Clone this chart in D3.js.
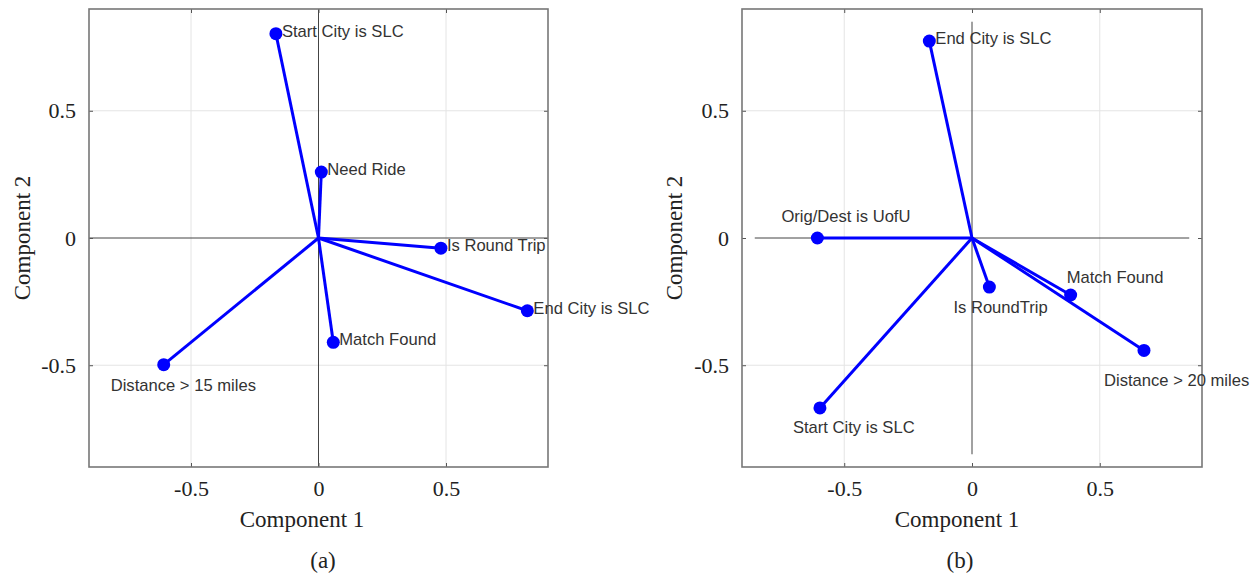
<!DOCTYPE html>
<html>
<head>
<meta charset="utf-8">
<script src="https://cdn.jsdelivr.net/npm/d3@7"></script>
<style>
  body { margin: 0; background: #fff; }
  svg { display: block; }
</style>
</head>
<body>
<div id="viz"></div>
<script>
// data
var ticks = [-0.5, 0, 0.5];
var tickLabels = ['-0.5', '0', '0.5'];

// panel (a)
var namesA = ['Start City is SLC', 'Need Ride', 'Is Round Trip', 'End City is SLC', 'Match Found', 'Distance > 15 miles'];
var comp1A = [-0.167, 0.011, 0.48, 0.819, 0.058, -0.607];
var comp2A = [0.803, 0.259, -0.04, -0.286, -0.41, -0.498];

// panel (b)
var namesB = ['End City is SLC', 'Orig/Dest is UofU', 'Is RoundTrip', 'Match Found', 'Distance > 20 miles', 'Start City is SLC'];
var comp1B = [-0.167, -0.605, 0.068, 0.386, 0.673, -0.595];
var comp2B = [0.774, 0, -0.193, -0.224, -0.442, -0.668];

// where each label sits relative to its point (px: start x, centre y)
var offsetsA = [[6, -2], [6, -3], [6, -3], [6, -3], [6, -3], [-53, 20]];
var offsetsB = [[6, -3], [-36, -22], [-36, 20], [-4, -18], [-40, 30], [-27, 19]];

var W = 1252, H = 575;
var plotTop = 9, plotBottom = 467;

var svg = d3.select('#viz')
  .append('svg')
  .attr('width', W)
  .attr('height', H);

function drawPanel(opts) {
  var x = d3.scaleLinear().domain([-0.9, 0.9]).range([opts.left, opts.right]);
  var y = d3.scaleLinear().domain([-0.9, 0.9]).range([plotBottom, plotTop]);
  var g = svg.append('g');

  // light grid at +-0.5
  [-0.5, 0.5].forEach(function(t) {
    g.append('line')
      .attr('x1', x(t)).attr('x2', x(t))
      .attr('y1', plotTop).attr('y2', plotBottom)
      .attr('stroke', '#e4e4e4').attr('stroke-width', 1);
    g.append('line')
      .attr('x1', opts.left).attr('x2', opts.right)
      .attr('y1', y(t)).attr('y2', y(t))
      .attr('stroke', '#e4e4e4').attr('stroke-width', 1);
  });

  // zero axes
  g.append('line')
    .attr('x1', x(-opts.axisExt)).attr('x2', x(opts.axisExt))
    .attr('y1', y(0)).attr('y2', y(0))
    .attr('stroke', '#444').attr('stroke-width', 1);
  g.append('line')
    .attr('x1', x(0)).attr('x2', x(0))
    .attr('y1', y(opts.axisExt)).attr('y2', y(-opts.axisExt))
    .attr('stroke', '#444').attr('stroke-width', 1);

  // box + inward ticks on all sides
  var fmt = function(d) { return tickLabels[ticks.indexOf(d)]; };
  var xBottom = d3.axisBottom(x).tickValues(ticks).tickFormat(fmt)
    .tickSizeInner(-4).tickSizeOuter(0).tickPadding(13);
  var xTop = d3.axisTop(x).tickValues(ticks).tickFormat('')
    .tickSizeInner(-4).tickSizeOuter(0);
  var yLeft = d3.axisLeft(y).tickValues(ticks).tickFormat(fmt)
    .tickSizeInner(-4).tickSizeOuter(0).tickPadding(13);
  var yRight = d3.axisRight(y).tickValues(ticks).tickFormat('')
    .tickSizeInner(-4).tickSizeOuter(0);

  var axes = [
    g.append('g').attr('transform', 'translate(0,' + plotBottom + ')').call(xBottom),
    g.append('g').attr('transform', 'translate(0,' + plotTop + ')').call(xTop),
    g.append('g').attr('transform', 'translate(' + opts.left + ',0)').call(yLeft),
    g.append('g').attr('transform', 'translate(' + opts.right + ',0)').call(yRight)
  ];
  axes.forEach(function(a) {
    a.select('.domain').remove();
    a.selectAll('.tick line').attr('stroke', '#555');
    a.selectAll('.tick text')
      .attr('font-family', '"Liberation Serif", "DejaVu Serif", serif')
      .attr('font-size', 22)
      .attr('fill', '#222');
  });

  g.append('rect')
    .attr('x', opts.left).attr('y', plotTop)
    .attr('width', opts.right - opts.left)
    .attr('height', plotBottom - plotTop)
    .attr('fill', 'none')
    .attr('stroke', '#777')
    .attr('stroke-width', 1.6);

  // loading vectors
  var idx = d3.range(opts.names.length);
  g.selectAll('line.vec')
    .data(idx)
    .enter().append('line')
    .attr('class', 'vec')
    .attr('x1', x(0)).attr('y1', y(0))
    .attr('x2', function(i) { return x(opts.c1[i]); })
    .attr('y2', function(i) { return y(opts.c2[i]); })
    .attr('stroke', '#0000ff')
    .attr('stroke-width', 3);

  g.selectAll('circle.pt')
    .data(idx)
    .enter().append('circle')
    .attr('class', 'pt')
    .attr('cx', function(i) { return x(opts.c1[i]); })
    .attr('cy', function(i) { return y(opts.c2[i]); })
    .attr('r', 6.5)
    .attr('fill', '#0000ff');

  g.selectAll('text.lab')
    .data(idx)
    .enter().append('text')
    .attr('class', 'lab')
    .attr('x', function(i) { return x(opts.c1[i]) + opts.offsets[i][0]; })
    .attr('y', function(i) { return y(opts.c2[i]) + opts.offsets[i][1]; })
    .attr('dy', '0.35em')
    .attr('font-family', '"Liberation Sans", Arial, sans-serif')
    .attr('font-size', 16.6)
    .attr('fill', '#333')
    .text(function(i) { return opts.names[i]; });

  // axis titles
  g.append('text')
    .attr('x', opts.titleX).attr('y', 527)
    .attr('text-anchor', 'middle')
    .attr('font-family', '"Liberation Serif", "DejaVu Serif", serif')
    .attr('font-size', 23)
    .attr('fill', '#222')
    .text('Component 1');

  g.append('text')
    .attr('transform', 'translate(' + opts.yTitleX + ',' + y(0) + ') rotate(-90)')
    .attr('text-anchor', 'middle')
    .attr('font-family', '"Liberation Serif", "DejaVu Serif", serif')
    .attr('font-size', 23)
    .attr('fill', '#222')
    .text('Component 2');

  g.append('text')
    .attr('x', opts.capX).attr('y', 568)
    .attr('text-anchor', 'middle')
    .attr('font-family', '"Liberation Serif", "DejaVu Serif", serif')
    .attr('font-size', 23)
    .attr('fill', '#222')
    .text(opts.caption);
}

drawPanel({
  left: 89, right: 548, axisExt: 0.9,
  names: namesA, c1: comp1A, c2: comp2A, offsets: offsetsA,
  titleX: 302, yTitleX: 30, capX: 323, caption: '(a)'
});

drawPanel({
  left: 742, right: 1202, axisExt: 0.85,
  names: namesB, c1: comp1B, c2: comp2B, offsets: offsetsB,
  titleX: 957, yTitleX: 682, capX: 960, caption: '(b)'
});
</script>
</body>
</html>
